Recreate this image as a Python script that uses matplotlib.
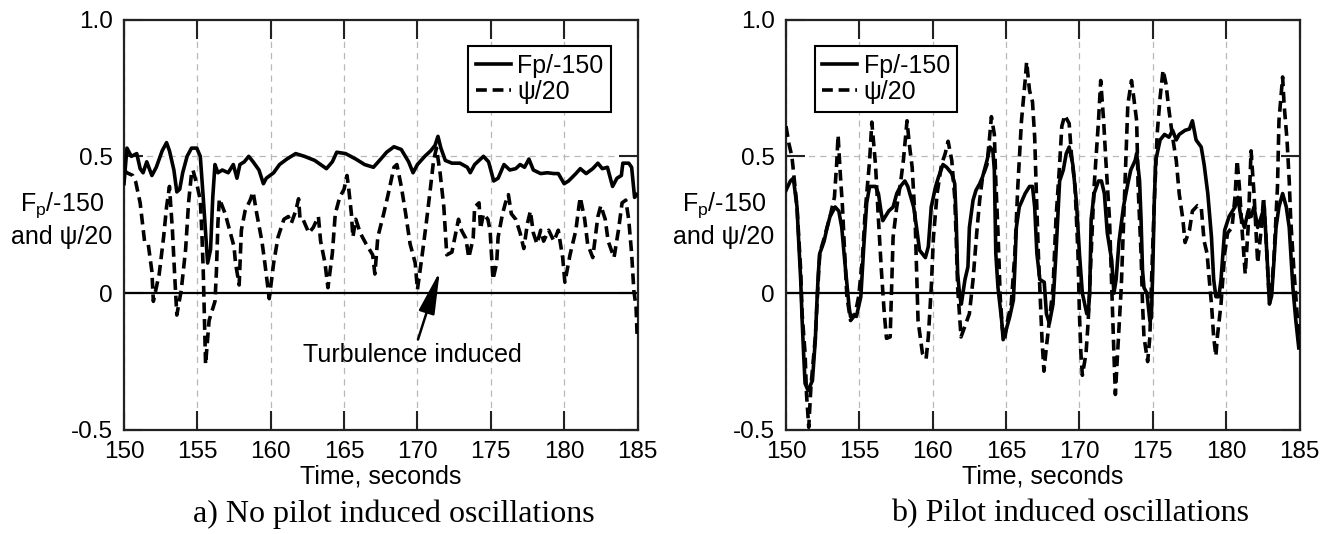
import matplotlib
matplotlib.use("Agg")
import matplotlib.pyplot as plt

plt.rcParams['font.family'] = ['Liberation Sans', 'DejaVu Sans']
plt.rcParams['mathtext.fontset'] = 'custom'
plt.rcParams['mathtext.rm'] = 'Liberation Sans'

# (time, value)
fp_a = [(150.0, 0.40), (150.2, 0.53), (150.5, 0.50), (150.87, 0.51), (151.1, 0.455), (151.3, 0.44),
        (151.55, 0.48), (151.9, 0.43), (152.2, 0.46), (152.6, 0.52), (152.9, 0.55), (153.1, 0.52),
        (153.4, 0.45), (153.6, 0.37), (153.8, 0.38), (154.0, 0.44), (154.3, 0.50), (154.6, 0.53),
        (154.96, 0.53), (155.2, 0.50), (155.4, 0.35), (155.6, 0.19), (155.7, 0.11), (155.9, 0.16),
        (156.05, 0.35), (156.2, 0.47), (156.4, 0.44), (156.7, 0.45), (157.1, 0.44), (157.45, 0.47),
        (157.7, 0.42), (157.9, 0.47), (158.2, 0.48), (158.5, 0.50), (158.8, 0.48), (159.2, 0.45),
        (159.5, 0.40), (159.7, 0.42), (160.2, 0.44), (160.6, 0.47), (161.1, 0.49), (161.7, 0.51),
        (162.3, 0.50), (163.0, 0.485), (163.8, 0.455), (164.2, 0.48), (164.5, 0.515), (165.1, 0.51),
        (165.8, 0.49), (166.4, 0.47), (167.0, 0.46), (167.5, 0.49), (167.9, 0.515), (168.4, 0.535),
        (168.9, 0.525), (169.4, 0.48), (169.7, 0.44), (170.0, 0.47), (170.5, 0.50), (170.9, 0.52),
        (171.2, 0.54), (171.4, 0.573), (171.6, 0.53), (171.9, 0.485), (172.35, 0.475), (172.9, 0.475),
        (173.4, 0.46), (173.6, 0.44), (173.9, 0.47), (174.3, 0.49), (174.5, 0.50), (174.85, 0.48),
        (175.2, 0.41), (175.5, 0.42), (175.9, 0.47), (176.3, 0.45), (176.7, 0.455), (177.0, 0.47),
        (177.3, 0.46), (177.6, 0.49), (177.9, 0.45), (178.4, 0.437), (178.85, 0.44), (179.3, 0.437),
        (179.6, 0.437), (180.0, 0.40), (180.3, 0.41), (180.8, 0.437), (181.1, 0.455), (181.5, 0.437),
        (181.95, 0.455), (182.3, 0.475), (182.6, 0.455), (182.95, 0.46), (183.3, 0.39), (183.6, 0.42),
        (183.9, 0.43), (184.0, 0.475), (184.4, 0.475), (184.6, 0.46), (184.8, 0.35), (184.95, 0.36)]

psi_a = [(150.0, 0.45), (150.2, 0.44), (150.6, 0.43), (150.8, 0.406), (151.1, 0.33), (151.4, 0.19),
         (151.65, 0.18), (151.9, 0.08), (152.0, -0.03), (152.4, 0.07), (152.7, 0.205), (152.9, 0.315),
         (153.1, 0.39), (153.3, 0.23), (153.45, 0.07), (153.6, -0.08), (153.9, 0.01), (154.2, 0.16),
         (154.4, 0.33), (154.6, 0.437), (154.7, 0.45), (155.0, 0.39), (155.2, 0.34), (155.3, 0.23),
         (155.4, 0.084), (155.56, -0.26), (155.8, -0.1), (156.2, -0.03), (156.3, 0.08), (156.4, 0.255),
         (156.5, 0.345), (156.9, 0.29), (157.2, 0.23), (157.5, 0.17), (157.6, 0.11), (157.85, 0.03),
         (158.0, 0.23), (158.25, 0.30), (158.6, 0.34), (158.8, 0.37), (159.05, 0.29), (159.4, 0.19),
         (159.6, 0.11), (159.9, -0.02), (160.2, 0.11), (160.5, 0.205), (160.9, 0.27), (161.2, 0.28),
         (161.4, 0.255), (161.7, 0.30), (161.9, 0.345), (162.0, 0.27), (162.2, 0.27), (162.6, 0.22),
         (162.9, 0.24), (163.25, 0.28), (163.4, 0.19), (163.7, 0.11), (163.9, 0.02), (164.2, 0.145),
         (164.4, 0.29), (164.7, 0.35), (165.0, 0.38), (165.2, 0.43), (165.3, 0.39), (165.5, 0.29),
         (165.6, 0.205), (165.8, 0.27), (166.1, 0.22), (166.5, 0.18), (166.95, 0.14), (167.1, 0.07),
         (167.3, 0.205), (167.7, 0.29), (168.0, 0.36), (168.4, 0.46), (168.6, 0.47), (168.9, 0.39),
         (169.2, 0.29), (169.5, 0.18), (169.85, 0.11), (170.0, 0.013), (170.3, 0.13), (170.6, 0.255),
         (170.9, 0.39), (171.1, 0.485), (171.3, 0.53), (171.55, 0.437), (171.8, 0.315), (171.9, 0.23),
         (172.0, 0.14), (172.35, 0.15), (172.8, 0.27), (173.0, 0.23), (173.3, 0.20), (173.5, 0.13),
         (173.8, 0.20), (173.9, 0.315), (174.2, 0.33), (174.3, 0.235), (174.5, 0.29), (174.8, 0.27),
         (174.95, 0.23), (175.15, 0.05), (175.4, 0.11), (175.5, 0.205), (175.8, 0.29), (176.0, 0.33),
         (176.2, 0.36), (176.4, 0.29), (176.7, 0.27), (177.0, 0.22), (177.25, 0.163), (177.5, 0.255),
         (177.7, 0.30), (177.9, 0.22), (178.15, 0.18), (178.4, 0.23), (178.6, 0.19), (178.95, 0.23),
         (179.3, 0.19), (179.6, 0.23), (179.9, 0.13), (180.05, 0.04), (180.4, 0.14), (180.8, 0.23),
         (181.0, 0.315), (181.1, 0.35), (181.4, 0.27), (181.6, 0.18), (181.95, 0.13), (182.3, 0.28),
         (182.5, 0.32), (182.8, 0.27), (183.0, 0.19), (183.4, 0.13), (183.7, 0.23), (183.95, 0.33),
         (184.2, 0.34), (184.4, 0.27), (184.6, 0.145), (184.75, 0.01), (184.9, -0.05), (184.97, -0.15)]

fp_b = [(150.0, 0.376), (150.3, 0.41), (150.5, 0.42), (150.75, 0.315), (150.85, 0.205), (151.0, 0.05),
        (151.1, -0.1), (151.2, -0.22), (151.3, -0.33), (151.5, -0.355), (151.8, -0.32), (152.0, -0.17),
        (152.1, -0.04), (152.2, 0.07), (152.3, 0.145), (152.6, 0.19), (152.8, 0.24), (153.0, 0.28),
        (153.35, 0.315), (153.6, 0.30), (153.8, 0.24), (154.0, 0.12), (154.3, -0.05), (154.4, -0.086),
        (154.6, -0.08), (154.8, -0.085), (155.1, -0.013), (155.3, 0.17), (155.5, 0.33), (155.7, 0.39),
        (156.1, 0.39), (156.3, 0.364), (156.5, 0.29), (156.6, 0.265), (157.0, 0.30), (157.3, 0.315),
        (157.55, 0.364), (157.8, 0.39), (158.1, 0.41), (158.3, 0.39), (158.7, 0.315), (158.9, 0.24),
        (159.1, 0.157), (159.5, 0.13), (159.7, 0.17), (159.9, 0.315), (160.2, 0.39), (160.4, 0.425),
        (160.7, 0.47), (160.95, 0.46), (161.3, 0.437), (161.5, 0.40), (161.6, 0.27), (161.7, 0.07),
        (161.85, -0.013), (161.95, -0.04), (162.2, 0.05), (162.4, 0.096), (162.5, 0.24), (162.75, 0.34),
        (162.95, 0.376), (163.2, 0.40), (163.4, 0.425), (163.7, 0.485), (163.9, 0.534), (164.1, 0.52),
        (164.2, 0.45), (164.3, 0.145), (164.45, 0.02), (164.7, -0.1), (164.8, -0.17), (165.0, -0.135),
        (165.25, -0.086), (165.5, -0.025), (165.6, 0.096), (165.7, 0.24), (165.9, 0.315), (166.3, 0.364),
        (166.6, 0.39), (166.8, 0.39), (166.95, 0.315), (167.1, 0.145), (167.3, 0.05), (167.6, 0.04),
        (167.75, -0.075), (167.95, -0.11), (168.2, -0.04), (168.4, 0.145), (168.65, 0.41), (168.9, 0.45),
        (169.1, 0.51), (169.3, 0.534), (169.55, 0.47), (169.8, 0.33), (170.0, 0.145), (170.2, 0.0),
        (170.5, -0.075), (170.6, -0.075), (170.7, 0.0), (170.8, 0.27), (171.0, 0.364), (171.3, 0.41),
        (171.5, 0.41), (171.7, 0.364), (171.9, 0.22), (172.2, 0.12), (172.35, 0.0), (172.5, 0.05),
        (172.7, 0.19), (173.0, 0.315), (173.3, 0.40), (173.5, 0.45), (173.8, 0.485), (173.9, 0.51),
        (174.1, 0.41), (174.2, 0.27), (174.3, 0.084), (174.4, 0.02), (174.6, 0.0), (174.8, -0.1),
        (174.9, -0.09), (175.0, 0.084), (175.1, 0.33), (175.2, 0.485), (175.5, 0.56), (175.8, 0.58),
        (176.1, 0.57), (176.35, 0.595), (176.6, 0.56), (176.8, 0.58), (177.2, 0.595), (177.5, 0.60),
        (177.7, 0.63), (177.95, 0.56), (178.3, 0.534), (178.5, 0.47), (178.75, 0.364), (179.0, 0.205),
        (179.15, 0.05), (179.3, -0.013), (179.5, -0.013), (179.65, 0.05), (179.9, 0.23), (180.2, 0.28),
        (180.6, 0.315), (180.8, 0.35), (181.0, 0.28), (181.25, 0.24), (181.5, 0.30), (181.7, 0.28),
        (181.9, 0.315), (182.15, 0.24), (182.4, 0.28), (182.6, 0.315), (182.8, 0.12), (182.95, -0.04),
        (183.1, -0.01), (183.25, 0.11), (183.4, 0.24), (183.6, 0.315), (183.85, 0.364), (184.1, 0.315),
        (184.3, 0.24), (184.55, 0.02), (184.75, -0.1), (184.95, -0.2)]

psi_b = [(150.0, 0.61), (150.2, 0.546), (150.4, 0.50), (150.5, 0.45), (150.75, 0.315), (151.0, 0.084),
         (151.1, -0.075), (151.3, -0.22), (151.4, -0.37), (151.55, -0.49), (151.7, -0.34), (152.0, -0.16),
         (152.2, 0.05), (152.3, 0.145), (152.7, 0.22), (153.0, 0.28), (153.3, 0.35), (153.45, 0.47),
         (153.55, 0.577), (153.7, 0.437), (153.85, 0.315), (154.0, 0.145), (154.15, -0.013), (154.4, -0.1),
         (154.7, -0.08), (154.95, -0.013), (155.2, 0.12), (155.4, 0.30), (155.7, 0.485), (155.85, 0.625),
         (156.1, 0.47), (156.3, 0.27), (156.5, 0.084), (156.7, -0.075), (156.85, -0.165), (157.1, -0.16),
         (157.2, 0.02), (157.3, 0.205), (157.55, 0.315), (157.8, 0.40), (158.0, 0.485), (158.25, 0.63),
         (158.4, 0.546), (158.6, 0.46), (158.8, 0.27), (158.9, 0.084), (159.0, -0.1), (159.3, -0.22),
         (159.55, -0.24), (159.7, -0.16), (159.9, 0.02), (160.05, 0.205), (160.3, 0.364), (160.6, 0.47),
         (160.85, 0.51), (161.05, 0.555), (161.3, 0.485), (161.5, 0.35), (161.6, 0.2), (161.7, 0.02),
         (161.85, -0.1), (161.93, -0.16), (162.2, -0.12), (162.5, -0.075), (162.75, 0.05), (163.0, 0.22),
         (163.2, 0.34), (163.4, 0.425), (163.7, 0.47), (163.9, 0.583), (164.0, 0.645), (164.2, 0.58),
         (164.3, 0.41), (164.45, 0.22), (164.6, -0.013), (164.75, -0.13), (164.9, -0.17), (165.1, -0.1),
         (165.35, -0.04), (165.6, 0.145), (165.8, 0.39), (166.05, 0.63), (166.3, 0.777), (166.4, 0.845),
         (166.6, 0.74), (166.8, 0.70), (166.95, 0.57), (167.05, 0.39), (167.2, 0.145), (167.35, -0.04),
         (167.45, -0.17), (167.58, -0.285), (167.75, -0.196), (167.95, -0.1), (168.2, 0.02), (168.4, 0.27),
         (168.65, 0.47), (168.8, 0.61), (169.0, 0.65), (169.3, 0.62), (169.45, 0.51), (169.7, 0.39),
         (169.9, 0.145), (170.0, -0.075), (170.1, -0.22), (170.2, -0.30), (170.45, -0.22), (170.6, -0.1),
         (170.8, 0.145), (171.0, 0.39), (171.3, 0.63), (171.45, 0.777), (171.65, 0.63), (171.8, 0.485),
         (172.05, 0.27), (172.2, 0.02), (172.35, -0.22), (172.45, -0.37), (172.6, -0.22), (172.85, 0.02),
         (173.1, 0.39), (173.3, 0.69), (173.55, 0.777), (173.7, 0.716), (173.9, 0.63), (174.0, 0.39),
         (174.2, 0.145), (174.3, -0.04), (174.4, -0.16), (174.65, -0.25), (174.8, -0.16), (174.9, 0.02),
         (175.1, 0.33), (175.3, 0.583), (175.5, 0.716), (175.7, 0.815), (175.9, 0.765), (176.1, 0.67),
         (176.35, 0.57), (176.6, 0.485), (176.8, 0.364), (177.05, 0.27), (177.2, 0.185), (177.5, 0.23),
         (177.7, 0.30), (178.05, 0.32), (178.3, 0.315), (178.5, 0.19), (178.7, 0.145), (178.85, 0.05),
         (179.0, -0.04), (179.15, -0.16), (179.3, -0.23), (179.4, -0.16), (179.65, -0.04), (179.9, 0.145),
         (180.1, 0.22), (180.4, 0.24), (180.6, 0.35), (180.75, 0.485), (180.9, 0.39), (181.1, 0.22),
         (181.3, 0.07), (181.5, 0.24), (181.65, 0.45), (181.7, 0.52), (181.9, 0.364), (182.15, 0.11),
         (182.4, 0.24), (182.55, 0.35), (182.7, 0.22), (182.9, 0.02), (183.05, -0.013), (183.25, 0.12),
         (183.5, 0.39), (183.6, 0.63), (183.85, 0.79), (183.95, 0.69), (184.15, 0.56), (184.3, 0.41),
         (184.4, 0.27), (184.6, 0.10), (184.8, -0.05), (184.97, -0.17)]

x_ticks = [150, 155, 160, 165, 170, 175, 180, 185]
y_ticks = [-0.5, 0, 0.5, 1.0]
y_tick_labels = ['-0.5', '0', '0.5', '1.0']
captions = ['a) No pilot induced oscillations', 'b) Pilot induced oscillations']

W, H = 1337, 534
fig = plt.figure(figsize=(W / 100, H / 100), dpi=100)

panels = [
    dict(fp=fp_a, psi=psi_a, left=124, leg_x=0.6706, ylab_x=62, cap_x=394),
    dict(fp=fp_b, psi=psi_b, left=786, leg_x=0.0564, ylab_x=724, cap_x=1070),
]

for i, p in enumerate(panels):
    ax = fig.add_axes([p['left'] / W, (H - 430) / H, 513.5 / W, 410.5 / H])
    ax.set_xlim(150, 185)
    ax.set_ylim(-0.5, 1.0)
    ax.set_xticks(x_ticks)
    ax.set_yticks(y_ticks)
    ax.set_yticklabels(y_tick_labels)
    ax.tick_params(direction='in', length=14, width=1.5, top=True, right=True,
                   labelsize=17.5, pad=8, color='#222222')
    for s in ax.spines.values():
        s.set_linewidth(1.6)
        s.set_color('#222222')

    ax.xaxis.grid(True, linestyle=(0, (5, 4)), color='#b8b8b8', linewidth=0.9)
    ax.axhline(0.5, linestyle=(0, (5, 4)), color='#b8b8b8', linewidth=0.9, zorder=0.5)
    ax.axhline(0.0, color='black', linewidth=1.6, zorder=1)
    ax.set_axisbelow(True)

    t1, v1 = zip(*p['fp'])
    t2, v2 = zip(*p['psi'])
    ax.plot(t1, v1, color='black', linewidth=2.6, label='Fp/-150', zorder=3)
    ax.plot(t2, v2, color='black', linewidth=2.6, linestyle=(0, (3.0, 1.6)), label='ψ/20', zorder=3)

    leg = ax.legend(loc='upper left', bbox_to_anchor=(p['leg_x'], 0.9354), borderaxespad=0,
                    fontsize=18, frameon=True, fancybox=False, framealpha=1, edgecolor='black',
                    handlelength=1.4, handletextpad=0.25, borderpad=0.3, labelspacing=0.1)
    leg.get_frame().set_linewidth(1.5)

    ax.set_xlabel('Time, seconds', fontsize=18, labelpad=1)

    fig.text(p['ylab_x'] / W, 1 - 205 / H, r'F$_{\mathregular{p}}$/-150', fontsize=18,
             ha='center', va='center')
    fig.text(p['ylab_x'] / W, 1 - 237 / H, 'and ψ/20', fontsize=18, ha='center', va='center')
    fig.text(p['cap_x'] / W, 1 - 514 / H, captions[i], fontsize=23, ha='center', va='center',
             family=['Liberation Serif', 'DejaVu Serif'])

    if i == 0:
        ax.annotate('', xy=(171.58, 0.089), xytext=(169.98, -0.179),
                    arrowprops=dict(arrowstyle='-|>,head_length=1.3,head_width=0.25',
                                    mutation_scale=20, color='black', lw=1.8))
        ax.text(169.68, -0.225, 'Turbulence induced', fontsize=18, ha='center', va='center')

fig.savefig('out.png', dpi=100)
